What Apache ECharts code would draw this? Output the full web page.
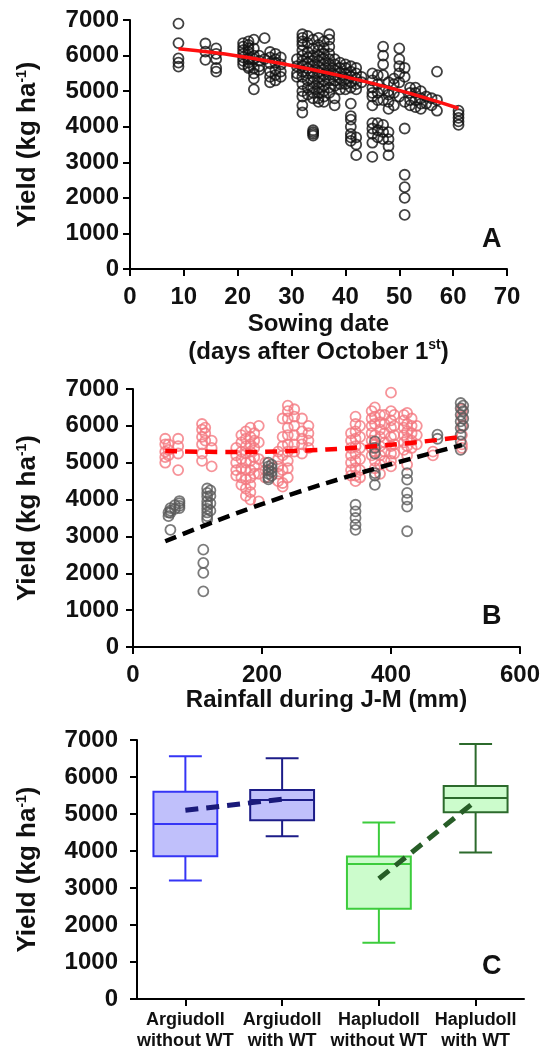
<!DOCTYPE html>
<html>
<head>
<meta charset="utf-8">
<script src="https://cdn.jsdelivr.net/npm/echarts@6/dist/echarts.min.js"></script>
<style>
html,body{margin:0;padding:0;background:#fff;}
#main{width:542px;height:1050px;}
</style>
</head>
<body>
<div id="main"></div>
<script>
// panel A: sowing date (days) -> yields, one column per date
var sowingCols = [
  [9, [6900, 6350, 5920, 5800, 5690]],
  [14, [6340, 6110, 5880]],
  [16, [6200, 6050, 5900, 5650, 5550]],
  [21, [6350, 6250, 6150, 6050, 5950, 5850, 5750]],
  [22, [6400, 6300, 6200, 6100, 5900, 5800, 5700, 5650]],
  [23, [6450, 6200, 6000, 5900, 5650, 5500, 5350, 5050]],
  [24, [6000, 5850, 5700, 5600]],
  [25, [6490, 5900]],
  [26, [6100, 5950, 5780, 5550, 5400, 5250]],
  [27, [6050, 5900, 5800, 5600, 5450, 5300]],
  [28, [5950, 5750, 5550, 5400]],
  [31, [5900, 5700, 5500, 5400]],
  [32, [6600, 6500, 6400, 6300, 6150, 6000, 5850, 5700, 5550, 5400, 5200, 5000, 4850, 4600, 4400]],
  [33, [6550, 6350, 6100, 5950, 5800, 5650, 5500, 5300, 5100, 4900]],
  [34, [6450, 6200, 6000, 5850, 5700, 5550, 5400, 5250, 5100, 4950, 4800, 3900, 3850, 3800, 3750]],
  [35, [6500, 6300, 6150, 6000, 5850, 5700, 5550, 5400, 5250, 5100, 4950, 4800, 4700]],
  [36, [6400, 6200, 6050, 5900, 5750, 5600, 5450, 5300, 5150, 5000, 4850, 4700]],
  [37, [6600, 6450, 6250, 6050, 5900, 5750, 5600, 5450, 5300, 5100, 4950]],
  [38, [5900, 5750, 5600, 5450, 5300, 5150, 4800, 4600]],
  [39, [5800, 5650, 5500, 5350, 5200, 5050]],
  [40, [5750, 5650, 5500, 5350, 5200, 5050]],
  [41, [5700, 5550, 5400, 5250, 5100, 4650, 4300, 4200, 4000, 3800, 3700, 3600]],
  [42, [5650, 5500, 5350, 5200, 5050, 3700, 3500, 3200]],
  [43, [5400, 5250]],
  [45, [5500, 5300, 5100, 4950, 4850, 4600, 4100, 3950, 3800, 3550, 3150]],
  [46, [5450, 5200, 4950, 4750, 4100, 3900, 3700]],
  [47, [6250, 6000, 5750, 5450, 5050, 4750, 4050, 3850, 3650]],
  [48, [5250, 5000, 4900, 4700, 4500, 3850, 3650, 3450, 3200]],
  [49, [5350, 5200, 4950, 4600]],
  [50, [6200, 5900, 5700, 5500, 5250, 4850]],
  [51, [5650, 5400, 4700, 3950, 2650, 2300, 2000, 1520]],
  [52, [5100, 4950, 4750, 4600]],
  [53, [5100, 4950, 4750, 4550]],
  [54, [5000, 4800, 4650, 4500]],
  [55, [4850, 4650]],
  [56, [4800, 4600]],
  [57, [5550, 4750, 4450]],
  [61, [4450, 4350, 4250, 4150, 4050]]
];
// fitted curve in panel A
var sowingFit = [[9, 6190], [20, 5990], [30, 5720], [40, 5400], [50, 5020], [61, 4520]];

// panel B: rainfall J-M (mm) -> yields, pink group and grey group
var rainPinkCols = [
  [50, [5650, 5500, 5300, 5150, 5000]],
  [55, [5500, 5350, 5200]],
  [70, [5650, 5450, 5250, 4800]],
  [107, [6050, 5900, 5700, 5500, 5250, 5050]],
  [112, [5950, 5800, 5600]],
  [122, [5600, 5400, 4900]],
  [160, [5400, 5200, 5000, 4800, 4650]],
  [168, [5750, 5550, 5300, 5100, 4850, 4600, 4400]],
  [175, [5850, 5650, 5450, 5250, 5000, 4800, 4550, 4300, 4100]],
  [182, [5950, 5700, 5500, 5300, 5050, 4800, 4600, 4400, 4200, 4000]],
  [188, [5800, 5600, 5400, 5150, 4900, 4700]],
  [195, [6000, 5550, 5100, 4700, 3950]],
  [205, [5000, 4800, 4600]],
  [225, [5300, 5100, 4900, 4700, 4500]],
  [232, [6200, 5700, 5450, 5200, 4800, 4450, 4350]],
  [240, [6550, 6400, 6200, 5950, 5750, 5500, 5300, 5050, 4850, 4600]],
  [250, [6450, 6250, 6000, 5750, 5500, 5300]],
  [262, [6200, 5850, 5650, 5500, 5250]],
  [272, [6000, 5800, 5600, 5400]],
  [338, [5800, 5600, 5400, 5200, 5000, 4800, 4650]],
  [345, [6250, 6050, 5850, 5650, 5450, 5250, 5050, 4850, 4650, 4500]],
  [352, [6000, 5700, 5400, 5100, 4800, 4600]],
  [370, [6400, 6200, 6000, 5800, 5600, 5400, 5200]],
  [375, [6500, 6250, 6050, 5750, 5500, 5300, 5050, 4850]],
  [383, [6300, 6100, 5900, 5700, 5450, 5200, 4950, 4700]],
  [390, [6300, 6050, 5800, 5550, 5300, 5050]],
  [400, [6900, 6400, 6150, 5950, 5700, 5450, 5250, 5050, 4900]],
  [405, [6300, 6000, 5750, 5500, 5250]],
  [420, [6300, 6150, 5950, 5750, 5550, 5350]],
  [425, [6350, 6050, 5850, 5650, 5450, 5200, 4950]],
  [432, [6200, 6000, 5800, 5600, 5400]],
  [440, [6000, 5750, 5500]],
  [465, [5300, 5200]],
  [510, [6450, 6250, 6000, 5750, 5500, 5400]]
];
var rainGreyCols = [
  [55, [3650, 3550]],
  [58, [3770, 3700, 3640, 3180]],
  [65, [3850, 3750]],
  [72, [3960, 3900, 3830, 3770]],
  [109, [2640, 2280, 2010, 1510]],
  [115, [4300, 4180, 4080, 3950, 3850, 3750, 3650, 3550, 3460]],
  [120, [4250, 4100, 3900, 3700]],
  [210, [5000, 4900, 4800, 4700, 4600, 4550]],
  [215, [4950, 4850, 4750, 4650]],
  [345, [3860, 3680, 3500, 3320, 3180]],
  [375, [5580, 5400, 5250, 4720, 4650, 4400]],
  [425, [4720, 4540, 4180, 4000, 3810, 3140]],
  [472, [5760, 5650]],
  [508, [6620, 6480, 6300, 6120, 5940, 5760, 5580, 5350]],
  [512, [6550, 6400, 6200, 6000]]
];
var rainPinkFit = [[50, 5320], [150, 5290], [250, 5320], [350, 5415], [450, 5575], [510, 5700]];
var rainGreyFit = [[50, 2870], [150, 3560], [250, 4170], [350, 4710], [450, 5200], [510, 5480]];

// panel C: boxes (min, q1, median, q3, max) and means
var soilCats = ['Argiudoll\nwithout WT', 'Argiudoll\nwith WT', 'Hapludoll\nwithout WT', 'Hapludoll\nwith WT'];
var boxStats = [
  [3200, 3860, 4730, 5600, 6560],
  [4400, 4830, 5380, 5650, 6510],
  [1520, 2440, 3650, 3850, 4770],
  [3960, 5050, 5430, 5760, 6890]
];
var argiMeans = [5100, 5400, '-', '-'];
var hapluMeans = ['-', '-', 3250, 5350];

var boxLine = ['#3535f5', '#1c1c88', '#3ccc3c', '#2c6a2c'];
var boxFill = ['#c0c0fb', '#c0c0fb', '#ccfccc', '#ccfccc'];

var FONT = '"Liberation Sans", Arial, sans-serif';

function flat(cols) {
  var out = [];
  cols.forEach(function (c) {
    c[1].forEach(function (y) { out.push([c[0], y]); });
  });
  return out;
}

var chart = echarts.init(document.getElementById('main'));

var axisLineSt = { show: true, lineStyle: { color: '#000', width: 2 } };
var tickSt = { show: true, inside: false, length: 7, lineStyle: { color: '#000', width: 2 } };
var supRich = { sup: { fontSize: 14, fontWeight: 'bold', fontFamily: FONT, color: '#111', verticalAlign: 'top', lineHeight: 26 } };
var plain = function (v) { return String(v); };

function yAxis(gi, margin, gap) {
  return {
    gridIndex: gi, type: 'value', min: 0, max: 7000, interval: 1000,
    name: 'Yield (kg ha{sup|-1})', nameLocation: 'middle', nameGap: gap, nameRotate: 90,
    nameTextStyle: { fontSize: 26, fontWeight: 'bold', fontFamily: FONT, color: '#111', rich: supRich },
    axisLine: axisLineSt, axisTick: tickSt,
    axisLabel: { margin: margin, fontSize: 24, fontWeight: 'bold', fontFamily: FONT, color: '#111', formatter: plain },
    splitLine: { show: false }
  };
}

function scatter(xi, data, color) {
  return {
    type: 'scatter', xAxisIndex: xi, yAxisIndex: xi, data: data,
    symbol: 'circle', symbolSize: 10,
    itemStyle: { color: 'rgba(0,0,0,0)', borderColor: color, borderWidth: 1.8 },
    emphasis: { disabled: true }, silent: true
  };
}

var option = {
  animation: false,
  backgroundColor: '#fff',
  grid: [
    { left: 130, top: 20, width: 377, height: 249, outerBoundsMode: 'none' },
    { left: 133, top: 389, width: 387, height: 258, outerBoundsMode: 'none' },
    { left: 137, top: 740, width: 387, height: 259, outerBoundsMode: 'none' }
  ],
  xAxis: [
    {
      gridIndex: 0, type: 'value', min: 0, max: 70, interval: 10,
      name: 'Sowing date\n(days after October 1{sup|st})', nameLocation: 'middle', nameGap: 39,
      nameTextStyle: { fontSize: 24, fontWeight: 'bold', fontFamily: FONT, color: '#111', lineHeight: 28, rich: supRich },
      axisLine: axisLineSt, axisTick: tickSt,
      axisLabel: { margin: 16, fontSize: 24, fontWeight: 'bold', fontFamily: FONT, color: '#111', formatter: plain },
      splitLine: { show: false }
    },
    {
      gridIndex: 1, type: 'value', min: 0, max: 600, interval: 200,
      name: 'Rainfall during J-M (mm)', nameLocation: 'middle', nameGap: 40,
      nameTextStyle: { fontSize: 24, fontWeight: 'bold', fontFamily: FONT, color: '#111' },
      axisLine: axisLineSt, axisTick: tickSt,
      axisLabel: { margin: 16, fontSize: 24, fontWeight: 'bold', fontFamily: FONT, color: '#111', formatter: plain },
      splitLine: { show: false }
    },
    {
      gridIndex: 2, type: 'category', data: soilCats,
      axisLine: axisLineSt,
      axisTick: { show: true, alignWithLabel: true, length: 7, lineStyle: { color: '#000', width: 2 } },
      axisLabel: { margin: 11, fontSize: 18, fontWeight: 'bold', fontFamily: FONT, color: '#111', lineHeight: 21, interval: 0 },
      splitLine: { show: false }
    }
  ],
  yAxis: [yAxis(0, 11, 89), yAxis(1, 14, 92), yAxis(2, 19, 96)],
  graphic: [
    { type: 'text', left: 482, top: 226, style: { text: 'A', font: 'bold 27px ' + FONT, fill: '#111' } },
    { type: 'text', left: 482, top: 603, style: { text: 'B', font: 'bold 27px ' + FONT, fill: '#111' } },
    { type: 'text', left: 482, top: 953, style: { text: 'C', font: 'bold 27px ' + FONT, fill: '#111' } }
  ],
  series: [
    scatter(0, flat(sowingCols), '#111'),
    {
      type: 'line', xAxisIndex: 0, yAxisIndex: 0, data: sowingFit, smooth: 0.4,
      symbol: 'none', lineStyle: { color: '#ff1010', width: 3.5 }, z: 5, silent: true
    },
    scatter(1, flat(rainPinkCols), '#f47880'),
    scatter(1, flat(rainGreyCols), '#5a5a5a'),
    {
      type: 'line', xAxisIndex: 1, yAxisIndex: 1, data: rainPinkFit, smooth: 0.4,
      symbol: 'none', lineStyle: { color: '#ff0000', width: 4.5, type: [12, 8] }, z: 5, silent: true
    },
    {
      type: 'line', xAxisIndex: 1, yAxisIndex: 1, data: rainGreyFit, smooth: 0.4,
      symbol: 'none', lineStyle: { color: '#000', width: 4.5, type: [12, 7] }, z: 5, silent: true
    },
    {
      type: 'custom', xAxisIndex: 2, yAxisIndex: 2,
      data: boxStats.map(function (b, i) { return [i].concat(b); }),
      encode: { x: 0, y: [1, 2, 3, 4, 5] },
      renderItem: function (params, api) {
        var i = api.value(0);
        var lo = api.coord([i, api.value(1)]);
        var q1 = api.coord([i, api.value(2)]);
        var md = api.coord([i, api.value(3)]);
        var q3 = api.coord([i, api.value(4)]);
        var hi = api.coord([i, api.value(5)]);
        var band = api.size([1, 0])[0];
        var bw = band * 0.66, cw = band * 0.34;
        var x = lo[0];
        var st = { stroke: boxLine[i], lineWidth: 2, fill: null };
        return {
          type: 'group',
          children: [
            { type: 'line', shape: { x1: x, y1: hi[1], x2: x, y2: q3[1] }, style: st },
            { type: 'line', shape: { x1: x, y1: q1[1], x2: x, y2: lo[1] }, style: st },
            { type: 'line', shape: { x1: x - cw / 2, y1: hi[1], x2: x + cw / 2, y2: hi[1] }, style: st },
            { type: 'line', shape: { x1: x - cw / 2, y1: lo[1], x2: x + cw / 2, y2: lo[1] }, style: st },
            { type: 'rect', shape: { x: x - bw / 2, y: q3[1], width: bw, height: q1[1] - q3[1] },
              style: { fill: boxFill[i], stroke: boxLine[i], lineWidth: 2 } },
            { type: 'line', shape: { x1: x - bw / 2, y1: md[1], x2: x + bw / 2, y2: md[1] }, style: st }
          ]
        };
      },
      silent: true, z: 2
    },
    {
      type: 'line', xAxisIndex: 2, yAxisIndex: 2, data: argiMeans,
      symbol: 'none', lineStyle: { color: '#1a1a7a', width: 5, type: [13, 8] }, z: 5, silent: true
    },
    {
      type: 'line', xAxisIndex: 2, yAxisIndex: 2, data: hapluMeans,
      symbol: 'none', lineStyle: { color: '#275d27', width: 5, type: [13, 8] }, z: 5, silent: true
    }
  ]
};

chart.setOption(option);
</script>
</body>
</html>
